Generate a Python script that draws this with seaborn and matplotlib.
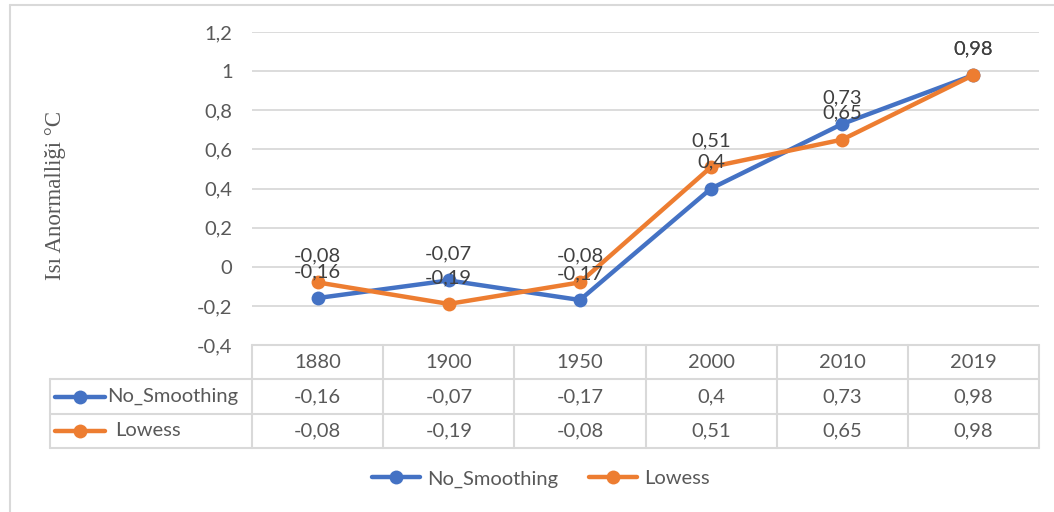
import numpy as np
import pandas as pd
import matplotlib
matplotlib.use("Agg")
import matplotlib.pyplot as plt
import seaborn as sns
from matplotlib.lines import Line2D

years = ["1880", "1900", "1950", "2000", "2010", "2019"]
no_smoothing = [-0.16, -0.07, -0.17, 0.40, 0.73, 0.98]
lowess = [-0.08, -0.19, -0.08, 0.51, 0.65, 0.98]
series_names = ["No_Smoothing", "Lowess"]
series_colors = ["#4472C4", "#ED7D31"]
y_ticks = [-0.4, -0.2, 0, 0.2, 0.4, 0.6, 0.8, 1.0, 1.2]
y_label = "Isı Anormalliği °C"

W, H = 1054, 512
GRID = "#d9d9d9"
TXT = "#595959"
FS = 14.5

sns.set_theme(style="white")
plt.rcParams['font.family'] = ['Lato', 'DejaVu Sans']


def fmt(v):
    s = f"{v:g}".replace(".", ",")
    return s


def px_box(x0, y0, x1, y1):
    return [x0 / W, 1 - y1 / H, (x1 - x0) / W, (y1 - y0) / H]


fig = plt.figure(figsize=(W / 100, H / 100), dpi=100)

# outer frame (only left and top edges visible in the crop)
fig.add_artist(Line2D([10 / W, 10 / W], [0, 1 - 5 / H], transform=fig.transFigure,
                      color=GRID, lw=1.5))
fig.add_artist(Line2D([10 / W, 1], [1 - 5 / H, 1 - 5 / H], transform=fig.transFigure,
                      color=GRID, lw=1.5))

# main plot area
ax = fig.add_axes(px_box(252, 32, 1039, 345))
pos = np.arange(len(years))
df = pd.DataFrame({
    "pos": np.concatenate([pos, pos]),
    "value": no_smoothing + lowess,
    "series": [series_names[0]] * len(years) + [series_names[1]] * len(years),
})
sns.lineplot(data=df, x="pos", y="value", hue="series", palette=series_colors,
             marker="o", markersize=10, markeredgewidth=0, linewidth=3.2,
             ax=ax, legend=False, sort=False)

for vals in [no_smoothing, lowess]:
    for i, v in enumerate(vals):
        ax.annotate(fmt(v), (i, v), xytext=(0, 19), textcoords="offset points",
                    ha="center", va="center", fontsize=FS, color="#404040")

ax.set_xlim(-0.5, len(years) - 0.5)
ax.set_ylim(-0.4, 1.2)
ax.set_yticks(y_ticks)
ax.set_yticklabels([fmt(t) for t in y_ticks], fontsize=FS, color=TXT)
ax.tick_params(axis="y", length=0, pad=14)
ax.set_xticks([])
ax.set_xlabel("")
ax.set_ylabel("")
for y in y_ticks:
    ax.axhline(y, color=GRID, lw=1.3, zorder=0)
for s in ax.spines.values():
    s.set_visible(False)

fig.text(55 / W, 1 - 195 / H, y_label, rotation=90, ha="center", va="center",
         fontsize=16.5, color=TXT, family=["Liberation Serif", "DejaVu Serif"])

# data table
ncat = len(years)
left = -0.5 - (252 - 50) / 131
tax = fig.add_axes(px_box(50, 345, 1039, 448))
tax.set_xlim(left, ncat - 0.5)
tax.set_ylim(0, 3)
tax.axis("off")
lk = dict(color=GRID, lw=1.5, clip_on=False)
tax.plot([-0.5, ncat - 0.5], [3, 3], **lk)
for yy in [0, 1, 2]:
    tax.plot([left, ncat - 0.5], [yy, yy], **lk)
tax.plot([left, left], [0, 2], **lk)
for xx in np.arange(ncat + 1) - 0.5:
    tax.plot([xx, xx], [0, 3], **lk)

for i, yr in enumerate(years):
    tax.text(i, 2.5, yr, ha="center", va="center", fontsize=FS, color=TXT)
for row, (name, col, vals) in enumerate(zip(series_names, series_colors,
                                            [no_smoothing, lowess])):
    yc = 1.5 - row
    for i, v in enumerate(vals):
        tax.text(i, yc, fmt(v), ha="center", va="center", fontsize=FS, color=TXT)
    x0 = left + 5 / 131
    x1 = left + 55 / 131
    tax.plot([x0, x1], [yc, yc], color=col, lw=3.2, solid_capstyle="round")
    tax.plot([(x0 + x1) / 2], [yc], "o", color=col, ms=10, mec="none")
    tax.text(x1 + (2 if row == 0 else 10) / 131, yc, name, ha="left", va="center",
             fontsize=FS, color=TXT)

# bottom legend
handles = [Line2D([], [], color=c, lw=3.2, marker="o", ms=10, mec="none")
           for c in series_colors]
leg = fig.legend(handles, series_names, loc="center", ncol=2, frameon=False,
                 bbox_to_anchor=(541 / W, 1 - 479 / H), fontsize=FS,
                 handlelength=2.4, handletextpad=0.35, columnspacing=1.5)
for t in leg.get_texts():
    t.set_color(TXT)

fig.savefig("out.png", dpi=100)
